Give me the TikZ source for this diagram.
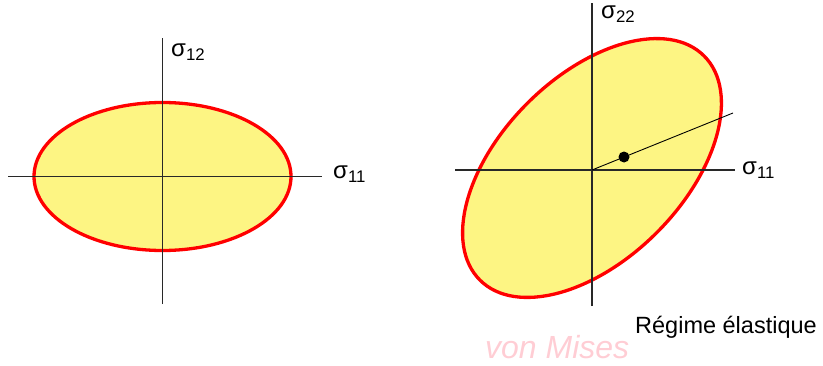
\documentclass[tikz,border=0pt]{standalone}
\usepackage{fontspec}
\setmainfont{Liberation Sans}
\usepackage{tikz}
\definecolor{cEdge}{RGB}{255,0,0}
\definecolor{cFill}{RGB}{253,245,131}
\definecolor{cAxis}{RGB}{40,40,40}
\definecolor{cMark}{RGB}{255,205,212}
\newcommand{\sig}[1]{σ\textsubscript{#1}}

\begin{document}
\begin{tikzpicture}[x=1pt,y=1pt,
  yield/.style={draw=cEdge,fill=cFill,line width=3.3pt},
  axis/.style={draw=cAxis,line width=1.1pt},
  lab/.style={anchor=base west,inner sep=0pt,font=\fontsize{24}{26}\selectfont}]
\useasboundingbox (0,0) rectangle (823,365);
% left: sigma11 - sigma12
\coordinate (O1) at (162.5,188.5);
\draw[yield] (O1) ellipse [x radius=128.5,y radius=74];
\coordinate (x1a) at (8,188.5);
\coordinate (x1b) at (322,188.5);
\coordinate (y1a) at (162.5,61);
\coordinate (y1b) at (162.5,327);
\draw[axis] (x1a) -- (x1b);
\draw[axis] (y1a) -- (y1b);
\node[lab] (s12) at (171,308) {\sig{12}};
\node[lab] (s11a) at (333,186) {\sig{11}};
% right: sigma11 - sigma22
\coordinate (O2) at (592,197);
\draw[yield,rotate around={45:(O2)}] (O2) ellipse [x radius=158.5,y radius=91.5];
\coordinate (x2a) at (455,195);
\coordinate (x2b) at (735,195);
\coordinate (y2a) at (592,59);
\coordinate (y2b) at (592,362);
\coordinate (ray) at (733,252);
\draw[axis] (x2a) -- (x2b);
\draw[axis] (y2a) -- (y2b);
\draw[black,line width=0.9pt] (x2a -| y2a) -- (ray);
\fill[black] (624,208) circle (5.5);
\node[lab] (s22) at (601,346) {\sig{22}};
\node[lab] (s11b) at (742,190) {\sig{11}};
\node[lab,font=\fontsize{23.5}{26}\selectfont] (reg) at (635,32) {Régime élastique};
\node[lab,text=cMark,font=\fontsize{32}{34}\selectfont\itshape] (vm) at (485,7) {von Mises};
\end{tikzpicture}
\end{document}
